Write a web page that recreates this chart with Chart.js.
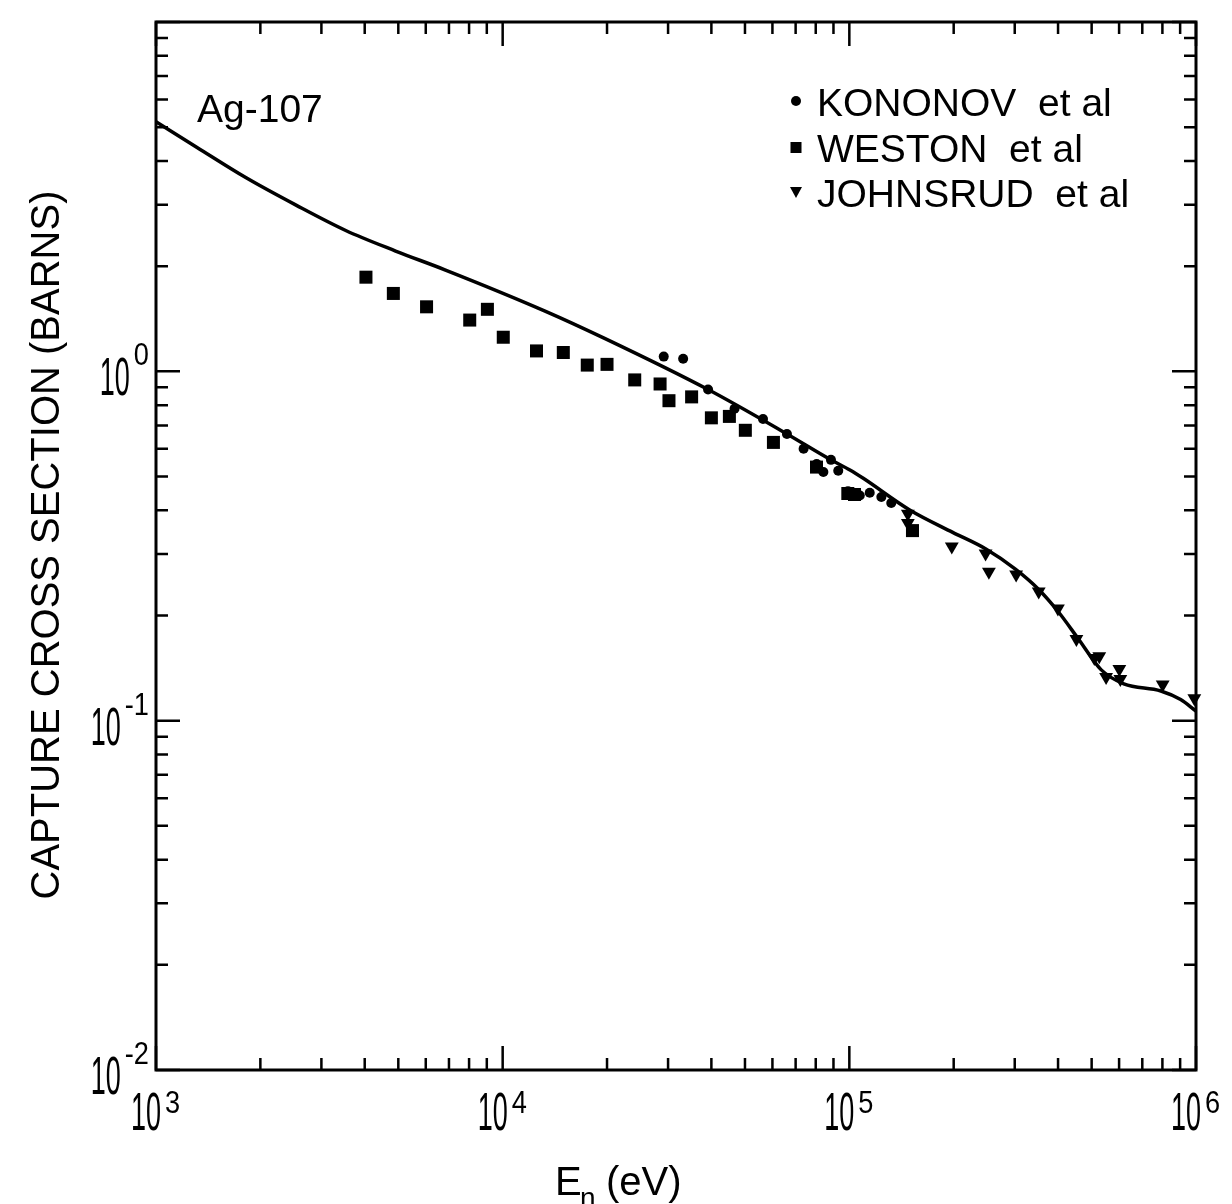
<!DOCTYPE html>
<html>
<head>
<meta charset="utf-8">
<title>Ag-107 capture cross section</title>
<script src="https://cdn.jsdelivr.net/npm/chart.js@4.4.1/dist/chart.umd.min.js"></script>
<style>
  html, body { margin: 0; padding: 0; background: #fff; }
  #wrap { width: 1232px; height: 1204px; position: relative; }
</style>
</head>
<body>
<div id="wrap"><canvas id="chart"></canvas></div>
<script>
// evaluated curve (E in eV, sigma in barns)
const curveE = [1000, 1310, 1820, 2535, 3526, 4910, 6840, 13250, 19680, 39130, 65900, 88500, 100400, 109700, 149300, 198700, 247700, 301300, 351800, 400700, 457000, 532000, 619000, 792000, 903000, 1000000];
const curveSigma = [5.18, 4.38, 3.58, 2.99, 2.53, 2.21, 1.95, 1.488, 1.243, 0.887, 0.663, 0.558, 0.522, 0.494, 0.401, 0.346, 0.310, 0.2715, 0.2375, 0.205, 0.1718, 0.1400, 0.1275, 0.1216, 0.1149, 0.1065];

// KONONOV et al (dots)
const konE = [29150, 33160, 39130, 46650, 56370, 66070, 73800, 80500, 84150, 88500, 92900, 99100, 107200, 114500, 123700, 132100];
const konSigma = [1.102, 1.086, 0.887, 0.781, 0.730, 0.662, 0.600, 0.543, 0.515, 0.558, 0.519, 0.454, 0.441, 0.449, 0.437, 0.420];

// WESTON et al (squares)
const westE = [4033, 4838, 6032, 8035, 9036, 10040, 12520, 14960, 17540, 20000, 24040, 28450, 30180, 35080, 40000, 45080, 50120, 60400, 80400, 99000, 103500, 152100];
const westSigma = [1.86, 1.671, 1.53, 1.402, 1.505, 1.252, 1.144, 1.132, 1.042, 1.047, 0.945, 0.920, 0.824, 0.845, 0.736, 0.743, 0.678, 0.626, 0.532, 0.447, 0.444, 0.350];

// JOHNSRUD et al (down triangles)
const johE = [147500, 147500, 197500, 247200, 252700, 302800, 351800, 399600, 451900, 509000, 526000, 550400, 601000, 605000, 801500, 989000];
const johSigma = [0.391, 0.368, 0.315, 0.301, 0.267, 0.262, 0.2344, 0.2096, 0.1712, 0.1511, 0.153, 0.1333, 0.1406, 0.1316, 0.127, 0.116];

// axis tick labels (powers of ten)
const xTickExps = [3, 4, 5, 6];
const yTickExps = [-2, -1, 0];

const legendLabels = ["KONONOV  et al", "WESTON  et al", "JOHNSRUD  et al"];
const sampleLabel = "Ag-107";
const xTitle = "E";
const xTitleSub = "n";
const xTitleUnit = "(eV)";
const yTitle = "CAPTURE CROSS SECTION (BARNS)";

const FONT = "'Liberation Sans', Arimo, Arial, sans-serif";
const pts = (xs, ys) => xs.map((x, i) => ({ x, y: ys[i] }));

function drawScaled(ctx, text, x, y, size, sx) {
  ctx.save();
  ctx.font = size + "px " + FONT;
  ctx.translate(x, y);
  ctx.scale(sx, 1);
  ctx.textAlign = "left";
  ctx.textBaseline = "alphabetic";
  ctx.fillText(text, 0, 0);
  ctx.restore();
}
function textW(ctx, text, size, sx) {
  ctx.font = size + "px " + FONT;
  return ctx.measureText(text).width * sx;
}

const BASE = 54, BASE_SX = 0.5, SUP = 32, SUP_SX = 0.85;

const framePlugin = {
  id: "frame",
  afterDraw(chart) {
    const ctx = chart.ctx;
    const a = chart.chartArea;
    const xs = chart.scales.x, ys = chart.scales.y;
    ctx.save();
    ctx.strokeStyle = "#000";
    ctx.fillStyle = "#000";
    ctx.lineWidth = 3;
    ctx.strokeRect(a.left, a.top, a.right - a.left, a.bottom - a.top);

    // inward ticks on all four sides
    ctx.lineWidth = 2.5;
    ctx.beginPath();
    for (let d = 3; d <= 6; d++) {
      for (let m = 1; m <= 9; m++) {
        const v = m * Math.pow(10, d);
        if (d === 6 && m > 1) continue;
        const px = xs.getPixelForValue(v);
        const len = m === 1 ? 24 : 12;
        ctx.moveTo(px, a.bottom); ctx.lineTo(px, a.bottom - len);
        ctx.moveTo(px, a.top); ctx.lineTo(px, a.top + len);
      }
    }
    for (let d = -2; d <= 1; d++) {
      for (let m = 1; m <= 9; m++) {
        const v = m * Math.pow(10, d);
        if (d === 1 && m > 1) continue;
        const py = ys.getPixelForValue(v);
        const len = m === 1 ? 24 : 12;
        ctx.moveTo(a.left, py); ctx.lineTo(a.left + len, py);
        ctx.moveTo(a.right, py); ctx.lineTo(a.right - len, py);
      }
    }
    ctx.stroke();

    // y tick labels
    yTickExps.forEach((e) => {
      const ty = ys.getPixelForValue(Math.pow(10, e));
      const bw = textW(ctx, "10", BASE, BASE_SX);
      const sw = textW(ctx, String(e), SUP, SUP_SX);
      const supLeft = a.left - 7 - sw;
      drawScaled(ctx, String(e), supLeft, ty - 6, SUP, SUP_SX);
      drawScaled(ctx, "10", supLeft - 4 - bw, ty + 24, BASE, BASE_SX);
    });

    // x tick labels
    xTickExps.forEach((e) => {
      const tx = xs.getPixelForValue(Math.pow(10, e));
      const bw = textW(ctx, "10", BASE, BASE_SX);
      const baseLeft = tx - 10 - bw / 2;
      drawScaled(ctx, "10", baseLeft, a.bottom + 60, BASE, BASE_SX);
      drawScaled(ctx, String(e), baseLeft + bw + 4, a.bottom + 43, SUP, SUP_SX);
    });

    // axis titles
    ctx.textBaseline = "alphabetic";
    ctx.textAlign = "left";
    ctx.font = "40px " + FONT;
    ctx.fillText(xTitle, 555, 1195);
    ctx.font = "28px " + FONT;
    ctx.fillText(xTitleSub, 580, 1207);
    ctx.font = "40px " + FONT;
    ctx.fillText(xTitleUnit, 606, 1195);

    ctx.save();
    ctx.translate(59, 545);
    ctx.rotate(-Math.PI / 2);
    ctx.textAlign = "center";
    ctx.font = "40px " + FONT;
    ctx.fillText(yTitle, 0, 0);
    ctx.restore();

    // sample label
    ctx.font = "39px " + FONT;
    ctx.fillText(sampleLabel, 197, 122);

    // legend
    const rows = [116, 162, 207];
    ctx.font = "39px " + FONT;
    legendLabels.forEach((t, i) => ctx.fillText(t, 817, rows[i]));
    const mx = 796;
    ctx.beginPath();
    ctx.arc(mx, rows[0] - 15, 5, 0, Math.PI * 2);
    ctx.fill();
    ctx.fillRect(mx - 5.5, rows[1] - 20, 11, 11);
    ctx.beginPath();
    ctx.moveTo(mx - 6, rows[2] - 20);
    ctx.lineTo(mx + 6, rows[2] - 20);
    ctx.lineTo(mx, rows[2] - 9);
    ctx.closePath();
    ctx.fill();
    ctx.restore();
  }
};

new Chart(document.getElementById("chart"), {
  type: "scatter",
  data: {
    datasets: [
      {
        label: "curve",
        type: "line",
        data: pts(curveE, curveSigma),
        borderColor: "#000",
        borderWidth: 3.5,
        pointRadius: 0,
        cubicInterpolationMode: "monotone",
        fill: false,
      },
      {
        label: legendLabels[0],
        data: pts(konE, konSigma),
        pointStyle: "circle",
        pointRadius: 5,
        backgroundColor: "#000",
        borderWidth: 0,
        clip: false,
      },
      {
        label: legendLabels[1],
        data: pts(westE, westSigma),
        pointStyle: "rect",
        pointRadius: 9.2,
        backgroundColor: "#000",
        borderWidth: 0,
        clip: false,
      },
      {
        label: legendLabels[2],
        data: pts(johE, johSigma),
        pointStyle: "triangle",
        rotation: 180,
        pointRadius: 8,
        backgroundColor: "#000",
        borderWidth: 0,
        clip: false,
      },
    ],
  },
  options: {
    responsive: true,
    maintainAspectRatio: false,
    animation: false,
    events: [],
    layout: { padding: { left: 156, right: 36, top: 22, bottom: 134 } },
    scales: {
      x: { type: "logarithmic", min: 1e3, max: 1e6, display: false },
      y: { type: "logarithmic", min: 1e-2, max: 10, display: false },
    },
    plugins: {
      legend: { display: false },
      tooltip: { enabled: false },
    },
  },
  plugins: [framePlugin],
});
</script>
</body>
</html>
